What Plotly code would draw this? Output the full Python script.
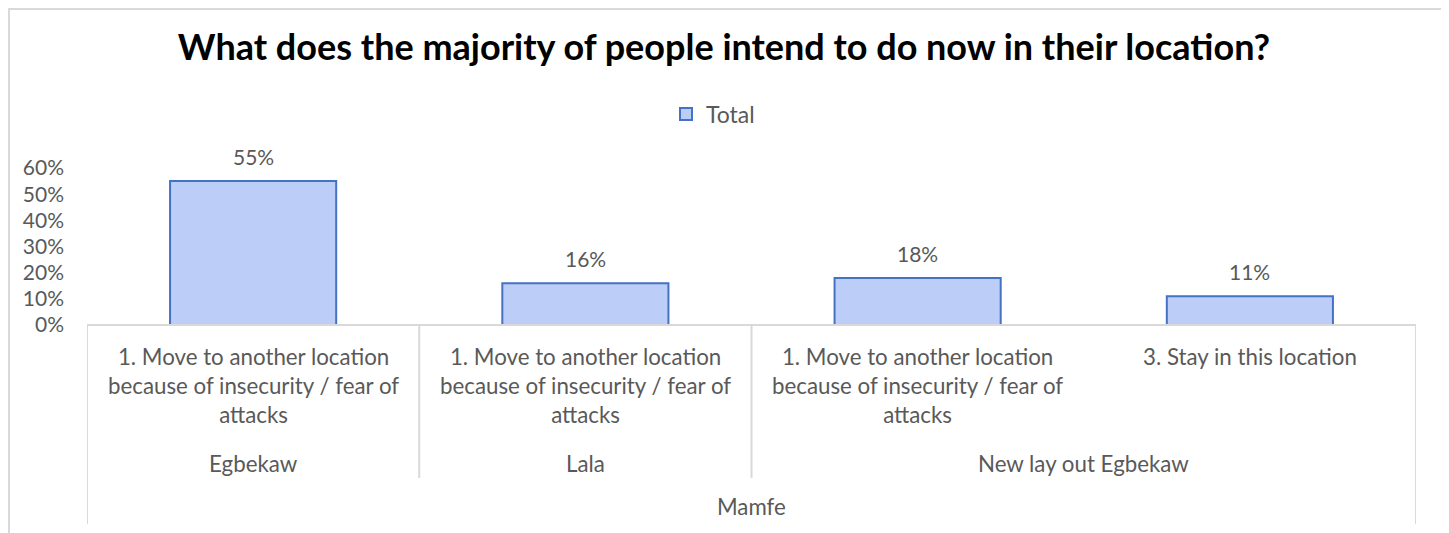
import plotly.graph_objects as go

# ---- data ----
level1 = [
    "1. Move to another location<br>because of insecurity / fear of<br>attacks",
    "1. Move to another location<br>because of insecurity / fear of<br>attacks",
    "1. Move to another location<br>because of insecurity / fear of<br>attacks",
    "3. Stay in this location",
]
level2 = ["Egbekaw", "Lala", "New lay out Egbekaw"]
level2_span = [(0, 0), (1, 1), (2, 3)]
level3 = ["Mamfe"]
values = [0.55, 0.16, 0.18, 0.11]
series_name = "Total"
title = "What does the majority of people intend to do now in their location?"

# ---- geometry (target screen pixels; page body has an 8px margin) ----
OFF = 8
W, H = 1449 - OFF, 533 - OFF
PL, PR, PT, PB = 87, 1416, 168, 325
FONT = "Lato"
GREY = "#595959"
LINE = "#d9d9d9"


def px_x(px):
    return (px - PL) / (PR - PL)


def px_y(py):
    return (PB - py) / (PB - PT)


x = list(range(len(values)))

fig = go.Figure()
fig.add_trace(go.Bar(
    x=x, y=values, name=series_name,
    marker=dict(color="#bccdf8", line=dict(color="#4472c4", width=2)),
    width=0.5, showlegend=True,
))

annotations = []
# value labels
for xi, v in zip(x, values):
    annotations.append(dict(x=xi, y=v, xref="x", yref="y", text=f"{round(v*100)}%",
                            showarrow=False, yanchor="bottom", yshift=10,
                            font=dict(family=FONT, size=21, color=GREY)))
# level 1 labels
for xi, t in zip(x, level1):
    annotations.append(dict(x=xi, y=px_y(341), xref="x", yref="paper", text=t,
                            showarrow=False, yanchor="top", align="center",
                            font=dict(family=FONT, size=22.3, color=GREY)))
# level 2 labels
for t, (a, b) in zip(level2, level2_span):
    annotations.append(dict(x=(a + b) / 2, y=px_y(463), xref="x", yref="paper", text=t,
                            showarrow=False, yanchor="middle",
                            font=dict(family=FONT, size=22.3, color=GREY)))
# level 3 label
annotations.append(dict(x=(len(values) - 1) / 2, y=px_y(506), xref="x", yref="paper",
                        text=level3[0], showarrow=False, yanchor="middle",
                        font=dict(family=FONT, size=22.3, color=GREY)))

shapes = []
# chart border
shapes.append(dict(type="rect", xref="paper", yref="paper",
                   x0=px_x(OFF + 1), x1=px_x(1445), y0=px_y(570), y1=px_y(OFF + 1),
                   line=dict(color=LINE, width=2), layer="below"))
# category box outer lines
for xb in (-0.5, len(values) - 0.5):
    shapes.append(dict(type="line", xref="x", yref="paper", x0=xb, x1=xb,
                       y0=px_y(524), y1=0, line=dict(color=LINE, width=2)))
# level-2 dividers
for a, b in level2_span[:-1]:
    xb = b + 0.5
    shapes.append(dict(type="line", xref="x", yref="paper", x0=xb, x1=xb,
                       y0=px_y(478), y1=0, line=dict(color=LINE, width=2)))
# axis baseline
shapes.append(dict(type="line", xref="x", yref="paper", x0=-0.5, x1=len(values) - 0.5,
                   y0=0, y1=0, line=dict(color=LINE, width=2)))

fig.update_layout(
    width=W, height=H,
    margin=dict(l=PL - OFF, r=W - (PR - OFF), t=PT - OFF, b=H - (PB - OFF), autoexpand=False),
    paper_bgcolor="white", plot_bgcolor="white",
    title=dict(text=f"<b>{title}</b>", xref="container", x=(724 - OFF) / W, xanchor="center",
               y=1 - (47 - OFF) / H, yref="container", yanchor="middle",
               font=dict(family=FONT, size=36, color="black")),
    xaxis=dict(range=[-0.5, len(values) - 0.5], showticklabels=False, showgrid=False,
               zeroline=False, showline=False, ticks=""),
    yaxis=dict(range=[0, 0.6], dtick=0.1, tickformat=".0%", showgrid=False,
               zeroline=False, showline=False, ticks="", ticklabelstandoff=22,
               tickfont=dict(family=FONT, size=21, color=GREY)),
    legend=dict(orientation="h", x=px_x(713), xanchor="center", y=px_y(114),
                yanchor="middle", font=dict(family=FONT, size=23, color=GREY),
                bgcolor="rgba(0,0,0,0)"),
    annotations=annotations, shapes=shapes, bargap=0.5,
)

fig.write_html("out.html")
